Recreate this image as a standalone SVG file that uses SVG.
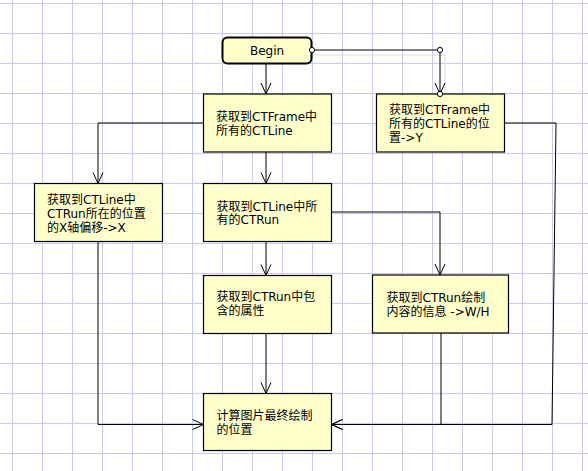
<svg xmlns="http://www.w3.org/2000/svg" width="588" height="471" viewBox="0 0 588 471">
<defs>
<pattern id="grid" x="12" y="3" width="30" height="30" patternUnits="userSpaceOnUse">
<path d="M0.5 0 V30 M0 0.5 H30" stroke="#cacaf0" stroke-width="1" fill="none"/>
</pattern>
<marker id="arr" viewBox="-12 -6 14 12" refX="0" refY="0" markerWidth="14" markerHeight="12" markerUnits="userSpaceOnUse" orient="auto">
<path d="M-11,-5 L0,0 L-11,5" fill="none" stroke="#000" stroke-width="1"/>
</marker>
</defs>
<style>
.box{fill:#ffffcc;stroke:#000;stroke-width:1.2}
.begin{fill:#ffffcc;stroke:#000;stroke-width:2}
.t{font-family:"DejaVu Sans","Noto Sans CJK SC",sans-serif;font-size:12px;fill:#000}
.c{fill:none;stroke:#000;stroke-width:1;marker-end:url(#arr)}
.dot{fill:#fff;stroke:#000;stroke-width:1}
</style>
<rect width="588" height="471" fill="#fff"/>
<rect width="588" height="471" fill="url(#grid)"/>
<g id="begin">
<rect class="begin" x="222.5" y="37.5" width="89" height="26" rx="5"/>
<text class="t" x="267" y="55" text-anchor="middle">Begin</text>
</g>
<g id="frame-lines">
<rect class="box" x="203.5" y="94" width="128" height="58"/>
<text class="t" x="216" y="121">获取到CTFrame中</text>
<text class="t" x="216" y="134.5">所有的CTLine</text>
</g>
<g id="line-positions">
<rect class="box" x="376.5" y="94" width="128" height="58"/>
<text class="t" x="389" y="114">获取到CTFrame中</text>
<text class="t" x="389" y="128">所有的CTLine的位</text>
<text class="t" x="389" y="142">置-&gt;Y</text>
</g>
<g id="run-offset">
<rect class="box" x="34.5" y="183.5" width="128" height="58"/>
<text class="t" x="47" y="204">获取到CTLine中</text>
<text class="t" x="47" y="218">CTRun所在的位置</text>
<text class="t" x="47" y="231.5">的X轴偏移-&gt;X</text>
</g>
<g id="line-runs">
<rect class="box" x="203.5" y="183.5" width="128" height="58"/>
<text class="t" x="216.5" y="210.5">获取到CTLine中所</text>
<text class="t" x="216.5" y="224">有的CTRun</text>
</g>
<g id="run-attrs">
<rect class="box" x="203.5" y="275.5" width="128" height="58"/>
<text class="t" x="216.5" y="301">获取到CTRun中包</text>
<text class="t" x="216.5" y="315">含的属性</text>
</g>
<g id="run-size">
<rect class="box" x="372.5" y="275" width="136" height="58"/>
<text class="t" x="386.5" y="302">获取到CTRun绘制</text>
<text class="t" x="386.5" y="316">内容的信息 -&gt;W/H</text>
</g>
<g id="final-position">
<rect class="box" x="203.5" y="393.5" width="128" height="57"/>
<text class="t" x="216.5" y="420">计算图片最终绘制</text>
<text class="t" x="216.5" y="434">的位置</text>
</g>
<g id="connectors">
<path d="M315,55 H445 V90" fill="none" stroke="#dcdcdc" stroke-width="1"/>
<path class="c" d="M266,63.5 V94"/>
<path class="c" d="M203.5,123 H98 V183.5"/>
<path class="c" d="M266,152 V183.5"/>
<path class="c" d="M312,50 H440 V94"/>
<path class="c" d="M331.5,212 H440 V275"/>
<path class="c" d="M266,241.5 V275.5"/>
<path class="c" d="M266,333.5 V393.5"/>
<path class="c" d="M98,241.5 V424.5 H203.5"/>
<path class="c" d="M441,333 V424.5 H331.5"/>
<path class="c" d="M504.5,123 H556 L552,424.5 H331.5"/>
<circle class="dot" cx="312" cy="50" r="2.6"/>
<circle class="dot" cx="440" cy="50" r="2.6"/>
<circle class="dot" cx="440" cy="94" r="2.6"/>
</g>
</svg>
